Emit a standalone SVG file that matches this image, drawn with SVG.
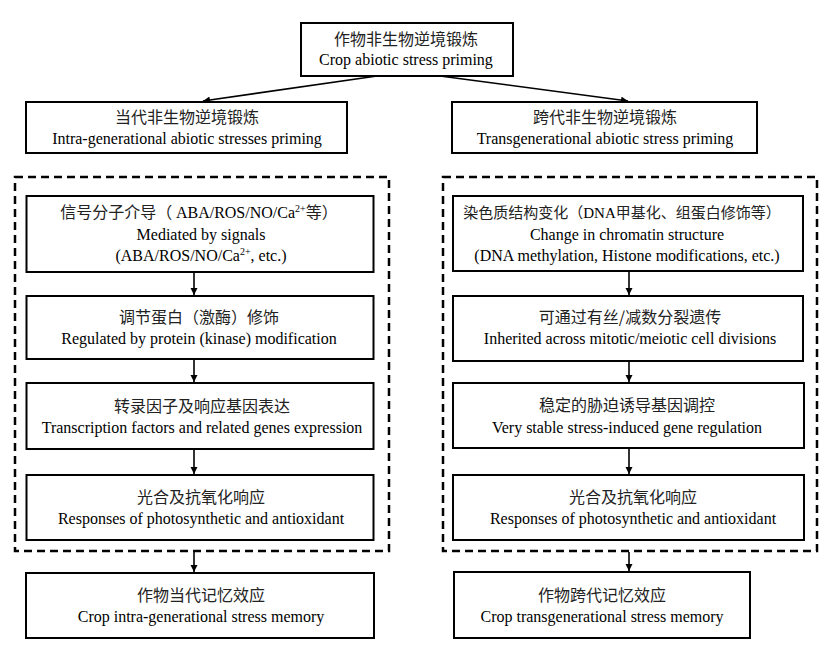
<svg xmlns="http://www.w3.org/2000/svg" width="834" height="652" viewBox="0 0 834 652">
<defs>
<marker id="ah" markerUnits="userSpaceOnUse" markerWidth="8" markerHeight="8" refX="7" refY="3.5" orient="auto">
<path d="M0,0 L7,3.5 L0,7 z" fill="#000"/>
</marker>
<style>
.box{fill:#fff;stroke:#000;stroke-width:2}
.dash{fill:none;stroke:#000;stroke-width:2.5;stroke-dasharray:8 5}
.cn{font-family:"Noto Sans CJK SC",sans-serif;font-size:16px;fill:#222;text-anchor:middle}
.en{font-family:"Liberation Serif",serif;font-size:16px;fill:#000;text-anchor:middle}
.lat{font-family:"Liberation Serif",serif;fill:#000}
.sup{font-size:10px}
.ln{stroke:#000;stroke-width:1.6;fill:none;marker-end:url(#ah)}
</style>
</defs>
<rect width="834" height="652" fill="#fff"/>
<g id="containers">
<rect class="dash" x="15" y="177" width="374" height="374"/>
<rect class="dash" x="443" y="177" width="374" height="374"/>
</g>
<g id="connectors">
<line class="ln" x1="377" y1="76" x2="203" y2="101"/>
<line class="ln" x1="440" y1="76" x2="628" y2="101"/>
<line class="ln" x1="194" y1="273" x2="194" y2="295"/>
<line class="ln" x1="194" y1="360" x2="194" y2="382"/>
<line class="ln" x1="194" y1="450" x2="194" y2="474"/>
<line class="ln" x1="194" y1="552" x2="194" y2="572"/>
<line class="ln" x1="629" y1="272" x2="629" y2="295"/>
<line class="ln" x1="629" y1="362" x2="629" y2="382"/>
<line class="ln" x1="629" y1="449" x2="629" y2="474"/>
<line class="ln" x1="629" y1="552" x2="629" y2="571"/>
</g>
<g id="n-root">
<rect class="box" x="301" y="23" width="212" height="53"/>
<text class="cn" x="406" y="44.5">作物非生物逆境锻炼</text>
<text class="en" x="406" y="65">Crop abiotic stress priming</text>
</g>
<g id="n-intra">
<rect class="box" x="26" y="102" width="321" height="51"/>
<text class="cn" x="187" y="123">当代非生物逆境锻炼</text>
<text class="en" x="187" y="143.5">Intra-generational abiotic stresses priming</text>
</g>
<g id="n-trans">
<rect class="box" x="452" y="102" width="305" height="51"/>
<text class="cn" x="605" y="123">跨代非生物逆境锻炼</text>
<text class="en" x="605" y="143.5">Transgenerational abiotic stress priming</text>
</g>
<g id="n-l1">
<rect class="box" x="26.5" y="196" width="347" height="76"/>
<text class="cn" x="199" y="218">信号分子介导（ <tspan class="lat">ABA/ROS/NO/Ca</tspan><tspan class="lat sup" dy="-6">2+</tspan><tspan dy="6">等）</tspan></text>
<text class="en" x="201" y="239.5">Mediated by signals</text>
<text class="en" x="201" y="260.5">(ABA/ROS/NO/Ca<tspan class="sup" dy="-6">2+</tspan><tspan dy="6">, etc.)</tspan></text>
</g>
<g id="n-l2">
<rect class="box" x="26.5" y="296" width="347" height="63"/>
<text class="cn" x="199" y="323">调节蛋白（激酶）修饰</text>
<text class="en" x="199" y="343.5">Regulated by protein (kinase) modification</text>
</g>
<g id="n-l3">
<rect class="box" x="26.5" y="383" width="347" height="66"/>
<text class="cn" x="202" y="412">转录因子及响应基因表达</text>
<text class="en" x="202" y="432.5">Transcription factors and related genes expression</text>
</g>
<g id="n-l4">
<rect class="box" x="26.5" y="475" width="347" height="65"/>
<text class="cn" x="201" y="503">光合及抗氧化响应</text>
<text class="en" x="201" y="523.5">Responses of photosynthetic and antioxidant</text>
</g>
<g id="n-l5">
<rect class="box" x="26" y="573" width="348" height="65"/>
<text class="cn" x="201" y="601">作物当代记忆效应</text>
<text class="en" x="201" y="621.5">Crop intra-generational stress memory</text>
</g>
<g id="n-r1">
<rect class="box" x="453" y="196" width="350" height="75"/>
<text class="cn" x="622" y="218" style="font-size:15px">染色质结构变化（<tspan class="lat">DNA</tspan>甲基化、组蛋白修饰等）</text>
<text class="en" x="627" y="239.5">Change in chromatin structure</text>
<text class="en" x="627" y="260.5">(DNA methylation, Histone modifications, etc.)</text>
</g>
<g id="n-r2">
<rect class="box" x="453" y="296" width="350" height="65"/>
<text class="cn" x="630" y="323">可通过有丝/减数分裂遗传</text>
<text class="en" x="630" y="343.5">Inherited across mitotic/meiotic cell divisions</text>
</g>
<g id="n-r3">
<rect class="box" x="453" y="383" width="351" height="65"/>
<text class="cn" x="627" y="411">稳定的胁迫诱导基因调控</text>
<text class="en" x="627" y="432.5">Very stable stress-induced gene regulation</text>
</g>
<g id="n-r4">
<rect class="box" x="453" y="475" width="351" height="65"/>
<text class="cn" x="633" y="503">光合及抗氧化响应</text>
<text class="en" x="633" y="523.5">Responses of photosynthetic and antioxidant</text>
</g>
<g id="n-r5">
<rect class="box" x="454" y="572" width="296" height="66"/>
<text class="cn" x="602" y="601">作物跨代记忆效应</text>
<text class="en" x="602" y="621.5">Crop transgenerational stress memory</text>
</g>
</svg>
